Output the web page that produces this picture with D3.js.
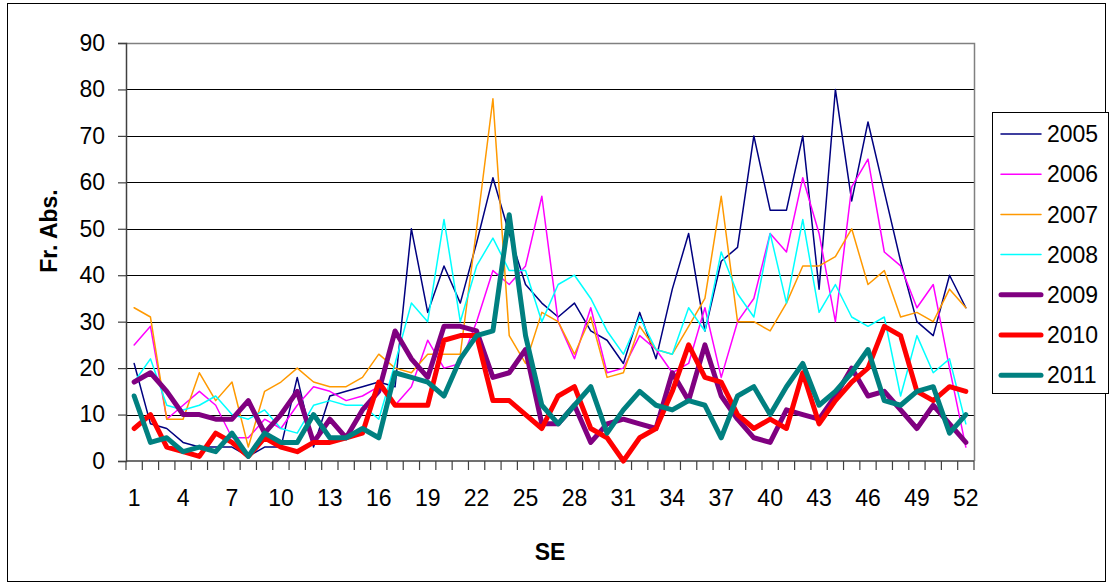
<!DOCTYPE html>
<html>
<head>
<meta charset="utf-8">
<script src="https://cdn.jsdelivr.net/npm/d3@7"></script>
<style>
  html, body { margin: 0; padding: 0; background: #fff; }
  svg { display: block; font-family: "Liberation Sans", Arial, sans-serif; }
</style>
</head>
<body>
<svg id="chart" width="1109" height="585"></svg>
<script>
// Weekly absolute frequencies per epidemiological week (SE), one array per year
const weeks = d3.range(1, 53);
const years = ["2005", "2006", "2007", "2008", "2009", "2010", "2011"];
const s2005 = [21,8,7,4,3,3,3,1,3,3,18,3,14,15,16,17,16,50,32,42,34,47,61,49,38,34,31,34,28,26,21,32,22,37,49,28,43,46,70,54,54,70,37,80,56,73,58,43,30,27,40,33];
const s2006 = [25,29,9,12,15,12,5,5,9,7,12,16,15,13,14,16,12,16,26,20,21,30,41,38,42,57,30,22,33,19,20,27,24,19,21,33,18,30,35,49,45,61,49,30,59,65,45,42,33,38,20,3];
const s2007 = [33,31,9,9,19,13,17,3,15,17,20,17,16,16,18,23,20,19,23,23,23,50,78,27,21,32,30,23,31,18,19,29,24,23,29,35,57,30,30,28,34,42,42,44,50,38,41,31,32,30,37,33];
const s2008 = [17,22,12,11,12,14,10,9,11,7,6,12,13,12,12,9,21,34,30,52,30,42,48,41,41,30,38,40,35,28,23,31,24,23,33,28,45,36,31,49,34,52,32,38,31,29,31,14,27,19,22,8];
const s2009 = [17,19,15,10,10,9,9,13,6,10,15,4,9,5,11,15,28,22,18,29,29,28,18,19,24,8,8,12,4,8,9,8,7,19,13,25,14,9,5,4,11,10,9,14,20,14,15,11,7,12,8,4];
const s2010 = [7,10,3,2,1,6,4,1,5,3,2,4,4,5,6,17,12,12,12,26,27,27,13,13,10,7,14,16,7,5,0,5,7,15,25,18,17,10,7,9,7,19,8,13,17,20,29,27,15,13,16,15];
const s2011 = [14,4,5,2,3,2,6,1,6,4,4,10,5,5,7,5,19,18,17,14,22,27,28,53,27,12,8,12,16,6,11,15,12,11,13,12,5,14,16,10,16,21,12,15,19,24,13,12,15,16,6,10];
const yTicks = [0,10,20,30,40,50,60,70,80,90];
const xLabelWeeks = [1,4,7,10,13,16,19,22,25,28,31,34,37,40,43,46,49,52];

const seriesValues = [s2005, s2006, s2007, s2008, s2009, s2010, s2011];
const colors = ["#000080", "#FF00FF", "#FF9900", "#00FFFF", "#800080", "#FF0000", "#008080"];
const widths = [1.5, 1.5, 1.5, 1.5, 5, 5, 5];
const fontSize = 23;

const series = years.map((yr, i) => ({
  name: yr,
  color: colors[i],
  width: widths[i],
  values: weeks.map((w, j) => ({ week: w, value: seriesValues[i][j] }))
}));

const plot = { left: 126, right: 974, top: 43, bottom: 461 };

const svg = d3.select("#chart");

// outer chart frame
svg.append("rect")
  .attr("x", 7.5).attr("y", 3.5)
  .attr("width", 1098).attr("height", 578)
  .attr("fill", "#fff").attr("stroke", "#000").attr("stroke-width", 1);

const x = d3.scaleBand().domain(weeks).range([plot.left, plot.right]).paddingInner(0).paddingOuter(0);
const cx = w => x(w) + x.bandwidth() / 2;
const y = d3.scaleLinear().domain([0, 90]).range([plot.bottom, plot.top]);

// horizontal gridlines
svg.append("g")
  .selectAll("line")
  .data(yTicks.filter(t => t > 0 && t < 90))
  .join("line")
  .attr("x1", plot.left).attr("x2", plot.right)
  .attr("y1", d => Math.round(y(d)) + 0.5).attr("y2", d => Math.round(y(d)) + 0.5)
  .attr("stroke", "#000").attr("stroke-width", 1);

// plot area border (top and right)
svg.append("path")
  .attr("d", `M${plot.left},${Math.round(y(90)) + 0.5}H${plot.right + 0.5}V${plot.bottom}`)
  .attr("fill", "none").attr("stroke", "#808080").attr("stroke-width", 1.5);

// y axis
const yAxis = d3.axisLeft(y).tickValues(yTicks).tickSize(8).tickPadding(13);
const gy = svg.append("g").attr("transform", `translate(${plot.left},0)`).call(yAxis);
gy.select(".domain").attr("stroke", "#404040").attr("stroke-width", 1.5);
gy.selectAll(".tick line").attr("stroke", "#404040").attr("stroke-width", 1.2);
gy.selectAll(".tick text").attr("font-size", fontSize).attr("fill", "#000")
  .attr("font-family", "Liberation Sans, Arial, sans-serif");

// x axis baseline and ticks between categories
const boundaries = weeks.map(w => x(w)).concat([plot.right]);
svg.append("line")
  .attr("x1", plot.left).attr("x2", plot.right)
  .attr("y1", plot.bottom).attr("y2", plot.bottom)
  .attr("stroke", "#404040").attr("stroke-width", 1.5);
svg.append("g")
  .selectAll("line")
  .data(boundaries)
  .join("line")
  .attr("x1", d => d).attr("x2", d => d)
  .attr("y1", plot.bottom).attr("y2", plot.bottom + 9)
  .attr("stroke", "#404040").attr("stroke-width", 1.2);

// x category labels
svg.append("g")
  .selectAll("text")
  .data(xLabelWeeks)
  .join("text")
  .attr("x", d => cx(d))
  .attr("y", 506)
  .attr("text-anchor", "middle")
  .attr("font-size", fontSize)
  .text(d => d);

// axis titles
svg.append("text")
  .attr("x", (plot.left + plot.right) / 2).attr("y", 560)
  .attr("text-anchor", "middle").attr("font-size", fontSize).attr("font-weight", "bold")
  .text("SE");
svg.append("text")
  .attr("transform", "translate(57,231) rotate(-90)")
  .attr("text-anchor", "middle").attr("font-size", fontSize).attr("font-weight", "bold")
  .text("Fr. Abs.");

// series lines
const line = d3.line().x(d => cx(d.week)).y(d => y(d.value));
svg.append("g")
  .selectAll("path")
  .data(series)
  .join("path")
  .attr("d", d => line(d.values))
  .attr("fill", "none")
  .attr("stroke", d => d.color)
  .attr("stroke-width", d => d.width)
  .attr("stroke-linejoin", "round")
  .attr("stroke-linecap", "round");

// legend
const legend = svg.append("g");
legend.append("rect")
  .attr("x", 992.5).attr("y", 112.5)
  .attr("width", 116).attr("height", 281)
  .attr("fill", "#fff").attr("stroke", "#000").attr("stroke-width", 1);
const item = legend.selectAll("g.item")
  .data(series)
  .join("g")
  .attr("class", "item")
  .attr("transform", (d, i) => `translate(0,${134 + i * 40.2})`);
item.append("line")
  .attr("x1", 1001).attr("x2", 1041)
  .attr("stroke", d => d.color)
  .attr("stroke-width", d => d.width)
  .attr("stroke-linecap", "round");
item.append("text")
  .attr("x", 1047).attr("dy", "0.36em")
  .attr("font-size", fontSize)
  .text(d => d.name);
</script>
</body>
</html>
